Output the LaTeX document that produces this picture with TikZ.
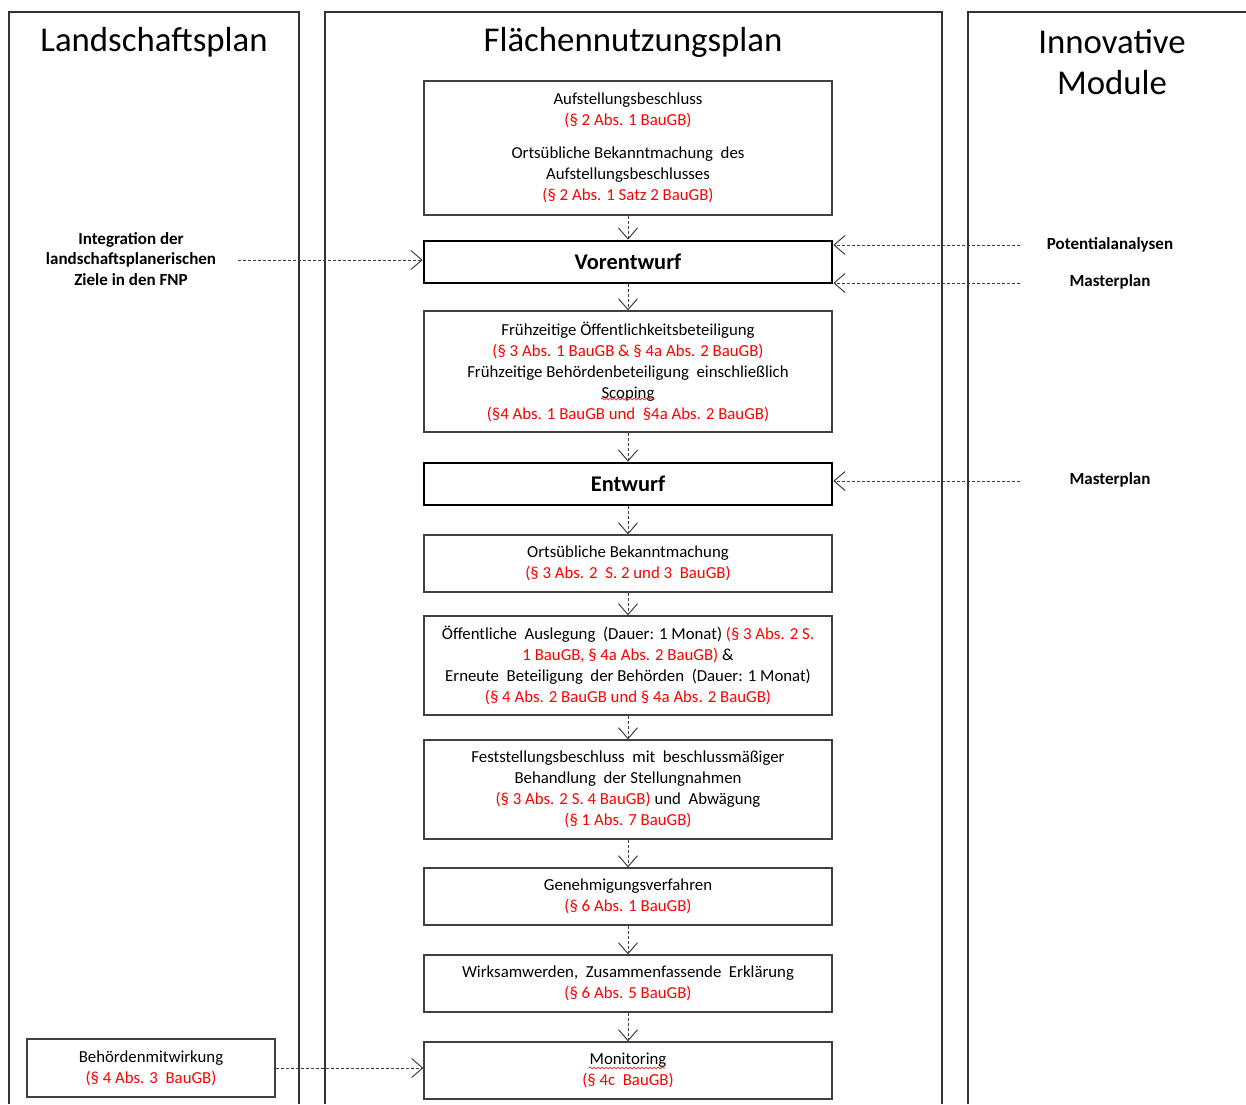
\documentclass[tikz,border=0pt]{standalone}
\usepackage{fontspec}
\setmainfont{Carlito}
\usetikzlibrary{arrows.meta,decorations.pathmorphing}

\newcommand{\bodyfont}{\fontsize{8.4}{10.5}\selectfont}
\newcommand{\para}[1]{\textcolor{red}{#1}}

\tikzset{
	col/.style = {draw=black!80, line width=0.6pt},
	head/.style = {font=\fontsize{17.4}{20.5}\selectfont, align=center},
	stepbox/.style = {draw=black!75, line width=0.6pt, minimum width=204pt, inner sep=0pt, align=center, font=\bodyfont},
	keybox/.style = {draw=black, line width=1.3pt, minimum width=204pt, minimum height=21pt, inner sep=0pt, font=\bfseries\fontsize{11.2}{12}\selectfont},
	side/.style = {align=center, font=\bfseries\fontsize{8.5}{10.3}\selectfont},
	flow/.style = {black!75, line width=0.5pt, dash pattern=on 1.5pt off 1pt, -{Straight Barb[length=5.5pt,width=9.5pt]}},
	spell/.style = {red, line width=0.3pt, decorate, decoration={snake, amplitude=0.5pt, segment length=2pt}}
}

\begin{document}
\begin{tikzpicture}[x=0.5pt, y=-0.5pt]
	\useasboundingbox (0,0) rectangle (1246,1104);
	% columns
	\draw[col] (9,1104) -- (9,12) -- (299,12) -- (299,1104);
	\draw[col] (325,1104) -- (325,12) -- (942,12) -- (942,1104);
	\draw[col] (968,1104) -- (968,12) -- (1246,12);
	\node[head] (lp) at (154,42) {Landschaftsplan};
	\node[head] (fnp) at (633,42) {Flächennutzungsplan};
	\node[head] (im) at (1112,62) {Innovative\\Module};
	% main steps
	\node[stepbox, minimum height=67pt] (auf) at (628,148) {Aufstellungsbeschluss\\ \para{(§ 2 Abs. 1 BauGB)}\\[6pt] Ortsübliche Bekanntmachung\ \ des\\ Aufstellungsbeschlusses\\ \para{(§ 2 Abs. 1 Satz 2 BauGB)}};
	\node[keybox] (vor) at (628,262) {Vorentwurf};
	\node[stepbox, minimum height=60.5pt] (fru) at (628,371.5) {Frühzeitige Öffentlichkeitsbeteiligung\\ \para{(§ 3 Abs. 1 BauGB \& § 4a Abs. 2 BauGB)}\\ Frühzeitige Behördenbeteiligung\ \ einschließlich\\ Scoping\\ \para{(§4 Abs. 1 BauGB und\ \ §4a Abs. 2 BauGB)}};
	\node[keybox] (ent) at (628,484) {Entwurf};
	\node[stepbox, minimum height=28.5pt] (ort) at (628,563.5) {Ortsübliche Bekanntmachung\\ \para{(§ 3 Abs. 2\ \ S. 2 und 3\ \ BauGB)}};
	\node[stepbox, minimum height=49.5pt] (aus) at (628,665.5) {Öffentliche\ \ Auslegung\ \ (Dauer: 1 Monat) \para{(§ 3 Abs. 2 S.}\\ \para{1 BauGB, § 4a Abs. 2 BauGB)} \&\\ Erneute\ \ Beteiligung\ \ der Behörden\ \ (Dauer: 1 Monat)\\ \para{(§ 4 Abs. 2 BauGB und § 4a Abs. 2 BauGB)}};
	\node[stepbox, minimum height=49.5pt] (fest) at (628,789.5) {Feststellungsbeschluss\ \ mit\ \ beschlussmäßiger\\ Behandlung\ \ der Stellungnahmen\\ \para{(§ 3 Abs. 2 S. 4 BauGB)} und\ \ Abwägung\\ \para{(§ 1 Abs. 7 BauGB)}};
	\node[stepbox, minimum height=28.5pt] (gen) at (628,896.5) {Genehmigungsverfahren\\ \para{(§ 6 Abs. 1 BauGB)}};
	\node[stepbox, minimum height=28.5pt] (wirk) at (628,983.5) {Wirksamwerden,\ \ Zusammenfassende\ \ Erklärung\\ \para{(§ 6 Abs. 5 BauGB)}};
	\node[stepbox, minimum height=28.5pt] (mon) at (628,1070.5) {Monitoring\\ \para{(§ 4c\ \ BauGB)}};
	% spell check marks
	\draw[spell] (601,399) -- (655,399);
	\draw[spell] (589,1068) -- (665,1068);
	% left column
	\node[side] (int) at (131,259) {Integration der\\ landschaftsplanerischen\\ Ziele in den FNP};
	\node[stepbox, minimum width=124pt, minimum height=29pt] (beh) at (151,1068) {Behördenmitwirkung\\ \para{(§ 4 Abs. 3\ \ BauGB)}};
	% right column
	\node[side] (pot) at (1110,245) {Potentialanalysen};
	\node[side] (mp1) at (1110,282) {Masterplan};
	\node[side] (mp2) at (1110,480) {Masterplan};
	\coordinate (intstart) at (238,260);
	\coordinate (potstart) at (1020,245);
	\coordinate (mp1start) at (1020,283);
	\coordinate (mp2start) at (1020,481);
	% flow arrows
	\draw[flow] (auf) -- (vor);
	\draw[flow] (vor) -- (fru);
	\draw[flow] (fru) -- (ent);
	\draw[flow] (ent) -- (ort);
	\draw[flow] (ort) -- (aus);
	\draw[flow] (aus) -- (fest);
	\draw[flow] (fest) -- (gen);
	\draw[flow] (gen) -- (wirk);
	\draw[flow] (wirk) -- (mon);
	\draw[flow] (intstart) -- (intstart -| vor.west);
	\draw[flow] (potstart) -- (potstart -| vor.east);
	\draw[flow] (mp1start) -- (mp1start -| vor.east);
	\draw[flow] (mp2start) -- (mp2start -| ent.east);
	\draw[flow] (beh.east) -- (beh.east -| mon.west);
\end{tikzpicture}
\end{document}
